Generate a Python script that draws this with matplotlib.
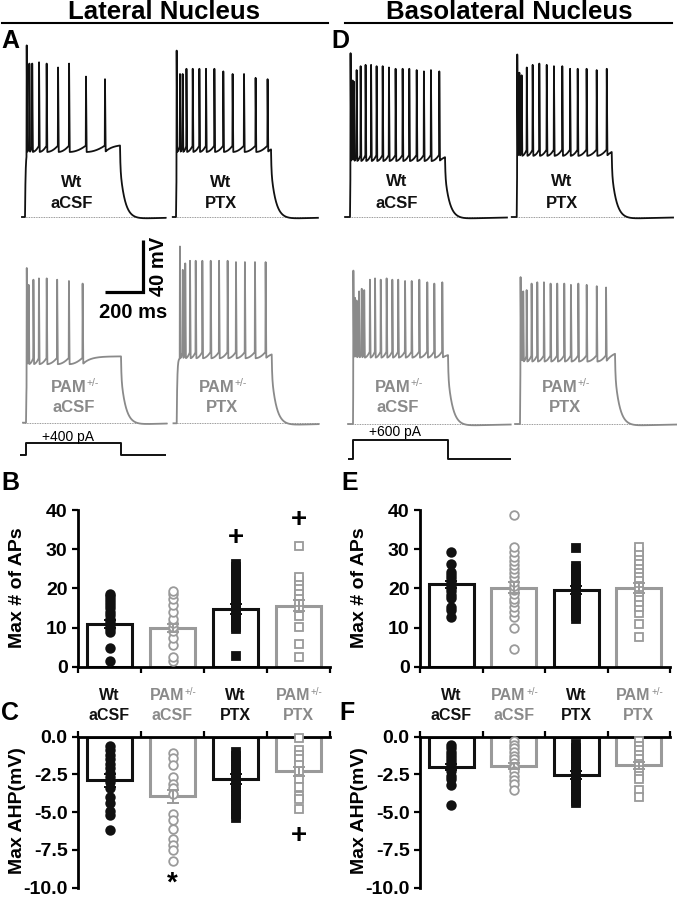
import numpy as np
import matplotlib
matplotlib.use('Agg')
import matplotlib.pyplot as plt
from matplotlib.lines import Line2D

plt.rcParams['font.family'] = ['Liberation Sans', 'DejaVu Sans']
plt.rcParams['axes.unicode_minus'] = False

# ---------------- data ----------------
groups = ['Wt\naCSF', 'PAM+/-\naCSF', 'Wt\nPTX', 'PAM+/-\nPTX']

# Traces: spike times (ms from step onset), spike peaks (mV above rest),
# plateau / end-of-step levels (mV above rest)
la_wt_acsf_t = [9, 23, 38, 74, 114, 174, 232, 321, 421]
la_wt_acsf_v = [132, 118, 118, 119, 118, 115, 118, 108, 106]
la_wt_ptx_t = [3.5, 21, 35, 55, 88, 123, 158, 202, 249, 298, 358, 419, 482]
la_wt_ptx_v = [128, 110, 110, 114, 114, 114, 114, 114, 112, 110, 110, 107, 106]
la_pam_acsf_t = [4, 14, 39, 68, 109, 164, 226, 298]
la_pam_acsf_v = [119, 106, 110, 111, 111, 110, 109, 107]
la_pam_ptx_t = [17, 32, 45, 70, 100, 135, 179, 223, 268, 312, 359, 412, 468]
la_pam_ptx_v = [136, 118, 123, 125, 125, 125, 125, 125, 125, 124, 124, 124, 124]
ld_wt_acsf_t = [3, 14, 21, 35, 56, 82, 111, 140, 172, 205, 240, 277, 312, 351, 389, 426, 470]
ld_wt_acsf_v = [126, 105, 104, 113, 116, 117, 117, 116, 116, 115, 114, 114, 114, 113, 112, 113, 112]
ld_wt_ptx_t = [3, 14, 26, 53, 84, 119, 158, 196, 240, 281, 321, 368, 421, 474]
ld_wt_ptx_v = [125, 111, 109, 115, 117, 118, 117, 116, 116, 114, 114, 114, 113, 114]
ld_pam_acsf_t = [2, 11, 19, 32, 46, 59, 89, 116, 146, 177, 207, 238, 274, 309, 349, 391, 428, 470]
ld_pam_acsf_v = [118, 97, 95, 102, 104, 103, 111, 112, 111, 112, 111, 111, 110, 110, 111, 109, 108, 109]
ld_pam_ptx_t = [3, 9, 17, 35, 61, 91, 126, 161, 196, 233, 268, 307, 351, 404, 453]
ld_pam_ptx_v = [113, 101, 102, 103, 108, 109, 109, 108, 108, 108, 107, 108, 107, 106, 105]
plateaus = {'la_wt_acsf': (50, 55), 'la_wt_ptx': (50, 52), 'la_pam_acsf': (45, 51),
            'la_pam_ptx': (50, 53), 'ld_wt_acsf': (43, 46), 'ld_wt_ptx': (47, 50),
            'ld_pam_acsf': (51, 53), 'ld_pam_ptx': (48, 54)}
step_ms = [0, 500]
stim_la_pA = 400
stim_ld_pA = 600

# Bar panels
b_means = [10.8, 9.8, 14.8, 15.6]
b_sems = [1.0, 1.0, 1.3, 1.3]
b_wt_acsf = [1.5, 4.7, 8.9, 9.6, 10.2, 10.9, 11.7, 12.3, 13.2, 14.0, 14.9, 15.7, 16.5, 17.2, 18.0, 18.6]
b_pam_acsf = [1.5, 2.6, 5.5, 7.2, 9.2, 10.2, 11.1, 12.3, 14.0, 15.7, 17.3, 18.6, 19.4]
b_wt_ptx = [2.7, 9.5, 10.2, 11.0, 11.8, 12.5, 13.2, 14.0, 14.8, 15.5, 16.3, 17.1, 18.0,
            18.8, 19.6, 20.5, 21.3, 22.2, 23.0, 23.9, 24.7, 25.5, 26.3]
b_pam_ptx = [2.6, 5.8, 10.2, 13.0, 15.1, 16.6, 18.0, 19.4, 20.6, 21.9, 22.8, 30.8]

c_means = [-2.9, -3.95, -2.8, -2.3]
c_sems = [0.4, 0.45, 0.3, 0.3]
c_wt_acsf = [-0.6, -0.9, -1.2, -1.5, -1.8, -2.1, -2.4, -2.7, -3.0, -3.4, -4.0, -4.4, -4.9, -5.2, -6.2]
c_pam_acsf = [-1.1, -1.4, -1.9, -2.7, -3.1, -3.4, -3.8, -5.1, -5.5, -6.1, -6.8, -7.2, -7.5, -8.2]
c_wt_ptx = [-1.0, -1.3, -1.6, -1.9, -2.2, -2.5, -2.8, -3.1, -3.3, -3.6, -3.9, -4.2, -4.5, -4.8, -5.1, -5.4]
c_pam_ptx = [-0.1, -0.9, -1.2, -1.5, -1.9, -2.3, -2.8, -3.3, -3.9, -4.1, -4.8]

e_means = [21.0, 20.2, 19.6, 20.0]
e_sems = [1.0, 1.5, 1.0, 1.3]
e_wt_acsf = [12.6, 14.6, 15.3, 17.5, 18.3, 19.2, 20.0, 20.9, 21.7, 22.6, 23.4, 24.3, 26.2, 29.4]
e_pam_acsf = [4.4, 9.8, 12.8, 14.0, 15.3, 16.4, 17.4, 18.6, 19.6, 20.6, 21.7, 22.8, 23.8,
              24.9, 26.0, 27.1, 28.1, 29.4, 30.5, 38.7]
e_wt_ptx = [12.2, 13.0, 13.8, 14.6, 15.4, 16.2, 17.0, 17.8, 18.6, 19.4, 20.2, 21.0, 21.8,
            22.6, 23.4, 24.2, 25.0, 25.8, 30.4]
e_pam_ptx = [7.7, 10.9, 13.8, 15.3, 16.6, 17.9, 19.1, 20.3, 21.3, 22.6, 23.8, 24.9, 26.0,
             27.1, 28.3, 29.4, 30.5]

f_means = [-2.0, -1.95, -2.55, -1.9]
f_sems = [0.2, 0.2, 0.25, 0.25]
f_wt_acsf = [-0.55, -0.75, -1.0, -1.2, -1.4, -1.6, -1.8, -2.0, -2.3, -2.6, -2.8, -3.2, -4.5]
f_pam_acsf = [-0.3, -0.55, -0.75, -1.0, -1.25, -1.5, -1.75, -2.0, -2.3, -2.6, -2.85, -3.1, -3.5]
f_wt_ptx = [-0.5, -0.75, -1.0, -1.25, -1.5, -1.75, -2.0, -2.25, -2.5, -2.75, -3.0, -3.25,
            -3.5, -3.75, -4.0, -4.25, -4.4]
f_pam_ptx = [-0.3, -0.6, -0.9, -1.2, -1.5, -1.8, -2.2, -2.6, -2.8, -3.5, -4.0]

b_marks = [(2, 32.9, '+'), (3, 37.4, '+')]
c_marks = [(1, -9.7, '*'), (3, -6.6, '+')]

# ---------------- style ----------------
BLACK = '#111111'
GRAY = '#9a9a9a'
TGRAY = '#8a8a8a'
W, H = 677, 899
SX, SY = 0.19, 1.3   # px per ms, px per mV

fig = plt.figure(figsize=(W / 100, H / 100), dpi=100)


def rect(x, y, w, h):
    return [x / W, 1 - (y + h) / H, w / W, h / H]


def ftext(x, y, s, **kw):
    return fig.text(x / W, 1 - y / H, s, **kw)


def make_trace(t, st, sv, plateau, end_level, step_end=500):
    st = np.asarray(st, float)
    sub = np.zeros_like(t)
    pre = (t >= 0) & (t < st[0])
    sub[pre] = plateau * (1 - np.exp(-t[pre] / 3.0))
    trough = plateau
    for k in range(len(st)):
        t0 = st[k]
        last = k + 1 >= len(st)
        t1 = step_end if last else st[k + 1]
        m = (t >= t0) & (t < t1)
        ph = (t[m] - t0) / (t1 - t0)
        if not last:
            sub[m] = trough + 5.0 * ph ** 2
        else:
            tau = 40.0
            sub[m] = trough + (end_level - trough) * (1 - np.exp(-(t[m] - t0) / tau)) / (1 - np.exp(-(t1 - t0) / tau))
    post = t >= step_end
    d = t[post] - step_end
    sub[post] = end_level * (0.3 * np.exp(-d / 2.0) + 0.7 * np.exp(-d / 26.0)) \
        - 2.5 * (1 - np.exp(-d / 25.0)) * np.exp(-d / 180.0)
    v = sub.copy()
    for ts, pk in zip(st, sv):
        tri = np.zeros_like(t)
        r = (t >= ts - 1.2) & (t < ts)
        tri[r] = (t[r] - (ts - 1.2)) / 1.2
        f = (t >= ts) & (t < ts + 3.5)
        tri[f] = 1 - (t[f] - ts) / 3.5
        v = v * (1 - tri) + pk * tri
    return v


def trace_axes(xs, yb, t0=-40, t1=840, v0=-15, v1=150):
    ax = fig.add_axes(rect(xs + t0 * SX, yb - v1 * SY, (t1 - t0) * SX, (v1 - v0) * SY))
    ax.set_xlim(t0, t1)
    ax.set_ylim(v0, v1)
    ax.axis('off')
    return ax


def draw_trace(xs, yb, st, sv, key, color, tstart, tend):
    ax = trace_axes(xs, yb)
    t = np.arange(tstart, tend, 0.1)
    p, e = plateaus[key]
    v = make_trace(t, st, sv, p, e)
    ax.plot([tstart, tend], [0, 0], color='#777777', lw=0.6, ls=(0, (1, 1)))
    ax.plot(t, v, color=color, lw=1.3)
    return ax


def pam_label(xc, y, color, size):
    # "PAM" bold with a small "+/-" superscript, centred as a unit on xc
    main_w = 2.222 * size * 100 / 72
    sup_size = size * 0.62
    sup_w = 1.195 * sup_size * 100 / 72
    anchor = xc - (main_w + sup_w) / 2 + main_w
    ftext(anchor, y, 'PAM', ha='right', va='center', fontsize=size, fontweight='bold', color=color)
    ftext(anchor + 0.5, y - size * 0.30, '+/-', ha='left', va='center', fontsize=sup_size,
          color=color)


def two_lines(x, y1, y2, l1, l2, color, size=12):
    if l1.startswith('PAM'):
        pam_label(x, y1, color, size)
    else:
        ftext(x, y1, l1, ha='center', va='center', fontsize=size, fontweight='bold', color=color)
    ftext(x, y2, l2, ha='center', va='center', fontsize=size, fontweight='bold', color=color)


# Lateral traces
draw_trace(25, 217, la_wt_acsf_t, la_wt_acsf_v, 'la_wt_acsf', BLACK, -16, 740)
draw_trace(176, 217, la_wt_ptx_t, la_wt_ptx_v, 'la_wt_ptx', BLACK, -17, 747)
ax_sb = draw_trace(26, 422.7, la_pam_acsf_t, la_pam_acsf_v, 'la_pam_acsf', TGRAY, -16, 740)
draw_trace(176.7, 423.3, la_pam_ptx_t, la_pam_ptx_v, 'la_pam_ptx', TGRAY, -17, 747)
# Basolateral traces
draw_trace(350, 217, ld_wt_acsf_t, ld_wt_acsf_v, 'ld_wt_acsf', BLACK, -26, 826)
draw_trace(516.7, 217, ld_wt_ptx_t, ld_wt_ptx_v, 'ld_wt_ptx', BLACK, -26, 823)
draw_trace(353, 424, ld_pam_acsf_t, ld_pam_acsf_v, 'ld_pam_acsf', TGRAY, -26, 830)
draw_trace(520, 424, ld_pam_ptx_t, ld_pam_ptx_v, 'ld_pam_ptx', TGRAY, -26, 826)

# scale bar (200 ms, 40 mV)
ax_sb.plot([416, 616, 616], [100.5, 100.5, 140.5], color='black', lw=2.3,
           clip_on=False, solid_capstyle='butt', solid_joinstyle='miter')
ftext(133, 312, '200 ms', ha='center', va='center', fontsize=14.5, fontweight='bold')
ftext(159, 266, '40 mV', ha='center', va='center', fontsize=14.5, fontweight='bold', rotation=90)

# stimulus steps
SI = 0.031
for xs, yb, amp, t0, t1 in [(25.7, 455, stim_la_pA, -30, 738), (353, 458.7, stim_ld_pA, -26, 832)]:
    ax = fig.add_axes(rect(xs + t0 * SX, yb - 700 * SI, (t1 - t0) * SX, 750 * SI))
    ax.set_xlim(t0, t1)
    ax.set_ylim(-50, 700)
    ax.axis('off')
    ax.plot([t0, step_ms[0], step_ms[0], step_ms[1], step_ms[1], t1],
            [0, 0, amp, amp, 0, 0], color=BLACK, lw=1.4)
ftext(68, 437, '+%d pA' % stim_la_pA, ha='center', va='center', fontsize=10)
ftext(395, 432, '+%d pA' % stim_ld_pA, ha='center', va='center', fontsize=10)

# trace labels
two_lines(72, 183, 203, 'Wt', 'aCSF', BLACK)
two_lines(221, 183, 203, 'Wt', 'PTX', BLACK)
two_lines(397, 182, 203, 'Wt', 'aCSF', BLACK)
two_lines(562, 182, 203, 'Wt', 'PTX', BLACK)
two_lines(74, 387, 408, 'PAM', 'aCSF', TGRAY)
two_lines(222, 387, 408, 'PAM', 'PTX', TGRAY)
two_lines(398, 387, 408, 'PAM', 'aCSF', TGRAY)
two_lines(565, 387, 408, 'PAM', 'PTX', TGRAY)

# headers
ftext(164, 12, 'Lateral Nucleus', ha='center', va='center', fontsize=18.5, fontweight='bold')
ftext(509, 12, 'Basolateral Nucleus', ha='center', va='center', fontsize=18.5, fontweight='bold')
for x0, x1 in [(2, 328), (345, 672)]:
    fig.add_artist(Line2D([x0 / W, x1 / W], [1 - 22.5 / H, 1 - 22.5 / H], color='black', lw=1.5))

for x, y, s in [(1, 41, 'A'), (331, 41, 'D'), (1, 483, 'B'), (341, 483, 'E'),
                (1, 713, 'C'), (339, 713, 'F')]:
    ftext(x, y, s, ha='left', va='center', fontsize=18, fontweight='bold')

# ---------------- bar panels ----------------
cols = [BLACK, GRAY, BLACK, GRAY]
mk = ['o', 'o', 's', 's']
filled = [True, False, True, False]


def bar_panel(r, means, sems, pts, ylim, yticks, fmt, inverted, marks):
    ax = fig.add_axes(rect(*r))
    x = np.arange(4)
    ax.bar(x, means, width=0.72, color='white', edgecolor=cols, linewidth=2.2, zorder=2)
    for i, vals in enumerate(pts):
        ms = 6.2 if mk[i] == 'o' else 5.6
        ax.plot(np.full(len(vals), i), vals, ls='none', marker=mk[i], ms=ms,
                mfc=cols[i] if filled[i] else 'white', mec=cols[i], mew=1.3,
                zorder=3, clip_on=False)
    for i in range(4):
        ax.errorbar(i, means[i], yerr=sems[i], fmt='none', ecolor=cols[i], elinewidth=1.4,
                    capsize=4, capthick=1.4, zorder=4)
    for i, y, s in marks:
        ax.text(i, y, s, ha='center', va='center', fontsize=20, fontweight='bold', color='black')
    ax.set_xlim(-0.5, 3.5)
    ax.set_ylim(*ylim)
    ax.set_xticks([-0.5, 0.5, 1.5, 2.5, 3.5])
    ax.set_xticklabels([])
    ax.set_yticks(yticks)
    ax.set_yticklabels([fmt % v for v in yticks], fontsize=14, fontweight='bold')
    ax.tick_params(direction='out', length=4.5, width=1.6, pad=3)
    for s in ax.spines.values():
        s.set_linewidth(2.0)
    ax.spines['right'].set_visible(False)
    if inverted:
        ax.spines['bottom'].set_visible(False)
        ax.xaxis.tick_top()
        ax.tick_params(axis='x', top=True, bottom=False, labeltop=False)
    else:
        ax.spines['top'].set_visible(False)
    ax.patch.set_alpha(0)
    return ax


CH = 151
axB = bar_panel((78, 510, 252, 156.7), b_means, b_sems, [b_wt_acsf, b_pam_acsf, b_wt_ptx, b_pam_ptx],
                (0, 40), [0, 10, 20, 30, 40], '%d', False, b_marks)
axC = bar_panel((78, 736.7, 252, CH), c_means, c_sems, [c_wt_acsf, c_pam_acsf, c_wt_ptx, c_pam_ptx],
                (-10, 0), [-10, -7.5, -5, -2.5, 0], '%.1f', True, c_marks)
axE = bar_panel((420, 510, 250, 156.7), e_means, e_sems, [e_wt_acsf, e_pam_acsf, e_wt_ptx, e_pam_ptx],
                (0, 40), [0, 10, 20, 30, 40], '%d', False, [])
axF = bar_panel((420, 736.7, 250, CH), f_means, f_sems, [f_wt_acsf, f_pam_acsf, f_wt_ptx, f_pam_ptx],
                (-10, 0), [-10, -7.5, -5, -2.5, 0], '%.1f', True, [])

for x in (18, 360):
    ftext(x, 588, 'Max # of APs', ha='center', va='center', rotation=90, fontsize=14, fontweight='bold')
    ftext(x, 811, 'Max AHP(mV)', ha='center', va='center', rotation=90, fontsize=14, fontweight='bold')

lab_cols = [BLACK, TGRAY, BLACK, TGRAY]
for x0, cw in [(78, 63), (420, 62.5)]:
    for i, g in enumerate(groups):
        l1, l2 = g.split('\n')
        two_lines(x0 + (i + 0.5) * cw, 695, 715, l1, l2, lab_cols[i], size=11.5)

fig.savefig('out.png', dpi=100)
